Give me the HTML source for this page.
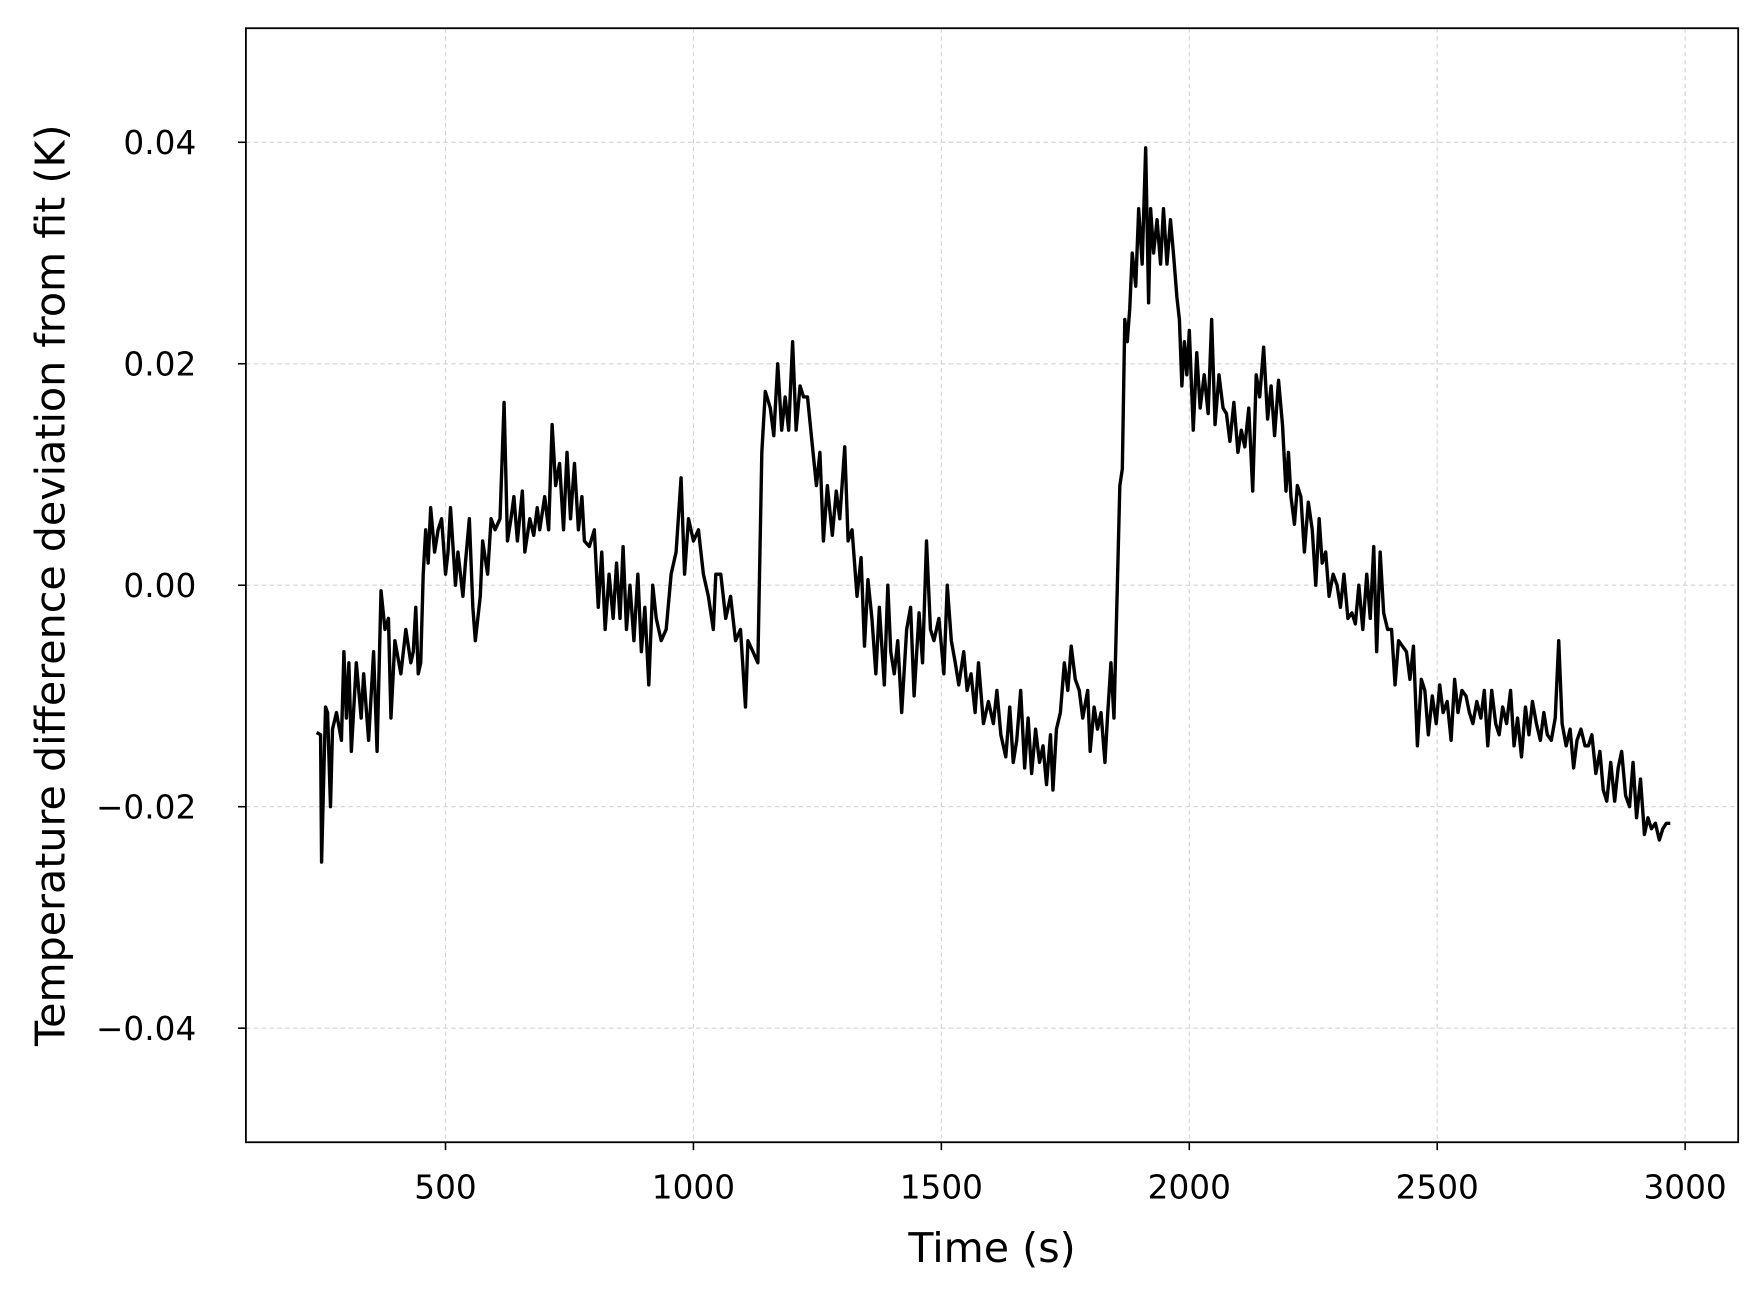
<!DOCTYPE html>
<html><head><meta charset="utf-8">
<style>
html,body{margin:0;padding:0;background:#fff;}
svg{display:block;}
text{font-family:"DejaVu Sans","Liberation Sans",sans-serif;fill:#000;}
</style></head>
<body>
<svg id="chart" width="1763" height="1298" viewBox="0 0 1563 1150" preserveAspectRatio="none" xmlns="http://www.w3.org/2000/svg">
<g id="grid"></g>
<g id="ticks"></g>
<path id="line" fill="none" stroke="#000" stroke-width="3" stroke-linejoin="round"/>
<rect x="218" y="25" width="1323" height="987" fill="none" stroke="#000" stroke-width="1.6"/>
<text x="879.5" y="1118" font-size="36.5" text-anchor="middle">Time (s)</text>
<text transform="translate(57,518.5) rotate(-90)" font-size="36.5" text-anchor="middle">Temperature difference deviation from fit (K)</text>
</svg>
<script>
const xTicks = [500, 1000, 1500, 2000, 2500, 3000];
const yTicks = [-0.04, -0.02, 0.0, 0.02, 0.04];
const yTickLabels = ["\u22120.04", "\u22120.02", "0.00", "0.02", "0.04"];
const times = [240,248,250,258,262,268,272,280,290,295,300,305,310,320,330,335,345,355,362,370,378,385,390,398,410,420,430,435,440,445,450,455,460,465,470,478,485,492,500,505,510,520,525,535,540,548,555,560,570,575,585,592,600,610,618,625,632,638,645,655,660,670,678,685,690,700,708,715,722,730,738,745,752,760,768,775,780,790,800,808,815,822,830,838,845,852,858,865,872,880,888,895,902,910,918,925,935,945,955,965,975,982,990,1000,1010,1020,1030,1040,1045,1055,1065,1075,1085,1095,1105,1110,1120,1130,1138,1145,1155,1162,1170,1178,1185,1192,1200,1207,1215,1222,1230,1240,1248,1255,1262,1270,1280,1288,1295,1305,1312,1320,1330,1338,1345,1352,1360,1368,1375,1385,1392,1398,1405,1412,1420,1430,1438,1445,1455,1462,1470,1478,1485,1495,1505,1512,1520,1528,1535,1545,1552,1560,1568,1575,1585,1595,1605,1612,1620,1630,1638,1645,1652,1660,1668,1675,1682,1690,1698,1705,1712,1720,1725,1732,1740,1748,1755,1762,1770,1778,1785,1795,1800,1808,1815,1822,1830,1835,1842,1848,1855,1860,1865,1870,1875,1880,1885,1892,1898,1905,1912,1918,1922,1928,1935,1942,1948,1955,1962,1968,1975,1980,1985,1990,1995,2000,2008,2015,2022,2030,2038,2045,2052,2060,2068,2075,2082,2090,2098,2105,2112,2120,2128,2135,2142,2150,2158,2165,2172,2180,2188,2195,2200,2205,2212,2218,2225,2232,2240,2248,2255,2262,2268,2275,2282,2290,2298,2305,2312,2320,2328,2335,2342,2350,2358,2365,2372,2378,2385,2392,2400,2408,2415,2422,2430,2438,2445,2452,2460,2468,2475,2482,2490,2498,2505,2512,2520,2528,2535,2542,2550,2558,2565,2572,2580,2588,2595,2602,2610,2618,2625,2632,2640,2648,2655,2662,2670,2678,2685,2692,2700,2708,2715,2722,2730,2738,2745,2752,2760,2768,2775,2782,2790,2798,2805,2812,2820,2828,2835,2842,2850,2858,2865,2872,2880,2888,2895,2902,2910,2918,2925,2932,2940,2948,2955,2962,2970];
const values = [-0.0133,-0.0135,-0.025,-0.011,-0.0115,-0.020,-0.013,-0.0115,-0.014,-0.006,-0.012,-0.007,-0.015,-0.007,-0.012,-0.008,-0.014,-0.006,-0.015,-0.0005,-0.004,-0.003,-0.012,-0.005,-0.008,-0.004,-0.007,-0.006,-0.002,-0.008,-0.007,0.001,0.005,0.002,0.007,0.003,0.005,0.006,0.001,0.003,0.007,0.0,0.003,-0.001,0.002,0.006,-0.002,-0.005,-0.001,0.004,0.001,0.006,0.005,0.006,0.0165,0.004,0.006,0.008,0.004,0.0085,0.003,0.006,0.0045,0.007,0.005,0.008,0.005,0.0145,0.009,0.011,0.005,0.012,0.006,0.011,0.005,0.008,0.004,0.0035,0.005,-0.002,0.003,-0.004,0.001,-0.003,0.002,-0.003,0.0035,-0.004,0.0,-0.005,0.001,-0.006,-0.002,-0.009,0.0,-0.003,-0.005,-0.004,0.001,0.003,0.0097,0.001,0.006,0.004,0.005,0.001,-0.001,-0.004,0.001,0.001,-0.003,-0.001,-0.005,-0.004,-0.011,-0.005,-0.006,-0.007,0.012,0.0175,0.016,0.0135,0.02,0.014,0.017,0.014,0.022,0.014,0.018,0.017,0.017,0.0125,0.009,0.012,0.004,0.009,0.0045,0.0085,0.006,0.0125,0.004,0.005,-0.001,0.0025,-0.0055,0.0005,-0.003,-0.008,-0.002,-0.009,0.0,-0.006,-0.008,-0.005,-0.0115,-0.004,-0.002,-0.010,-0.0025,-0.007,0.004,-0.004,-0.005,-0.003,-0.008,0.0,-0.005,-0.007,-0.009,-0.006,-0.0095,-0.008,-0.0115,-0.007,-0.0125,-0.0105,-0.0125,-0.0095,-0.0135,-0.0155,-0.011,-0.016,-0.014,-0.0095,-0.0165,-0.012,-0.017,-0.013,-0.016,-0.0145,-0.018,-0.0135,-0.0185,-0.013,-0.0115,-0.007,-0.0095,-0.0055,-0.0085,-0.0095,-0.012,-0.0095,-0.015,-0.011,-0.013,-0.0115,-0.016,-0.012,-0.007,-0.012,0.0,0.009,0.0105,0.024,0.022,0.025,0.030,0.027,0.034,0.029,0.0395,0.0255,0.034,0.030,0.033,0.029,0.034,0.029,0.033,0.030,0.026,0.024,0.018,0.022,0.019,0.023,0.014,0.021,0.016,0.019,0.0155,0.024,0.0145,0.019,0.016,0.0155,0.013,0.0165,0.012,0.014,0.0125,0.016,0.0085,0.019,0.017,0.0215,0.015,0.018,0.0135,0.0185,0.0145,0.0085,0.012,0.008,0.0055,0.009,0.008,0.003,0.0075,0.005,0.0,0.006,0.002,0.003,-0.001,0.001,0.0,-0.002,0.001,-0.003,-0.0025,-0.0035,0.0,-0.004,0.001,-0.003,0.0035,-0.006,0.003,-0.0025,-0.004,-0.004,-0.009,-0.005,-0.0055,-0.006,-0.0085,-0.0055,-0.0145,-0.0085,-0.0095,-0.0135,-0.010,-0.0125,-0.009,-0.0115,-0.0105,-0.014,-0.0085,-0.0115,-0.0095,-0.01,-0.0115,-0.0125,-0.0105,-0.012,-0.0095,-0.0145,-0.0095,-0.0125,-0.0135,-0.011,-0.0125,-0.0095,-0.0145,-0.012,-0.0155,-0.011,-0.0135,-0.0105,-0.0125,-0.014,-0.0115,-0.0135,-0.014,-0.012,-0.005,-0.0125,-0.0145,-0.013,-0.0165,-0.014,-0.013,-0.0145,-0.0145,-0.0135,-0.017,-0.015,-0.0185,-0.0195,-0.016,-0.0195,-0.0165,-0.015,-0.019,-0.020,-0.016,-0.021,-0.0175,-0.0225,-0.021,-0.022,-0.0215,-0.023,-0.022,-0.0215,-0.0215];

const NS = "http://www.w3.org/2000/svg";
const L = 218, R = 1541, T = 25, B = 1012;
const xMin = 97.4, xMax = 3107, yMin = -0.0503, yMax = 0.0503;
function sx(v){ return L + (v - xMin) / (xMax - xMin) * (R - L); }
function sy(v){ return B - (v - yMin) / (yMax - yMin) * (B - T); }

const grid = document.getElementById('grid');
const ticks = document.getElementById('ticks');
function mk(tag, attrs, parent){
  const e = document.createElementNS(NS, tag);
  for (const k in attrs) e.setAttribute(k, attrs[k]);
  parent.appendChild(e);
  return e;
}
xTicks.forEach(function(v){
  const x = sx(v);
  const g = mk('line', {x1:x, x2:x, y1:T, y2:B, stroke:'#d3d3d3', 'stroke-width':1, 'stroke-dasharray':'4,3'}, grid);
  
  
  const t = mk('line', {x1:x, x2:x, y1:B, y2:B+7, stroke:'#000', 'stroke-width':1.4}, ticks);
  
  
  const lb = mk('text', {x:x, y:B+50, 'font-size':29, 'text-anchor':'middle'}, ticks);
  lb.textContent = String(v);
  
  
});
yTicks.forEach(function(v, i){
  const y = sy(v);
  const g = mk('line', {x1:L, x2:R, y1:y, y2:y, stroke:'#d3d3d3', 'stroke-width':1, 'stroke-dasharray':'4,3'}, grid);
  
  
  const t = mk('line', {x1:L-7, x2:L, y1:y, y2:y, stroke:'#000', 'stroke-width':1.4}, ticks);
  
  
  const lb = mk('text', {x:L-44, y:y+10.5, 'font-size':29, 'text-anchor':'end'}, ticks);
  lb.textContent = yTickLabels[i];
  
  
});
let d = '';
times.forEach(function(t, i){
  d += (i ? 'L' : 'M') + sx(t).toFixed(1) + ',' + sy(values[i]).toFixed(1);
});
document.getElementById('line').setAttribute('d', d);
</script>
</body></html>
